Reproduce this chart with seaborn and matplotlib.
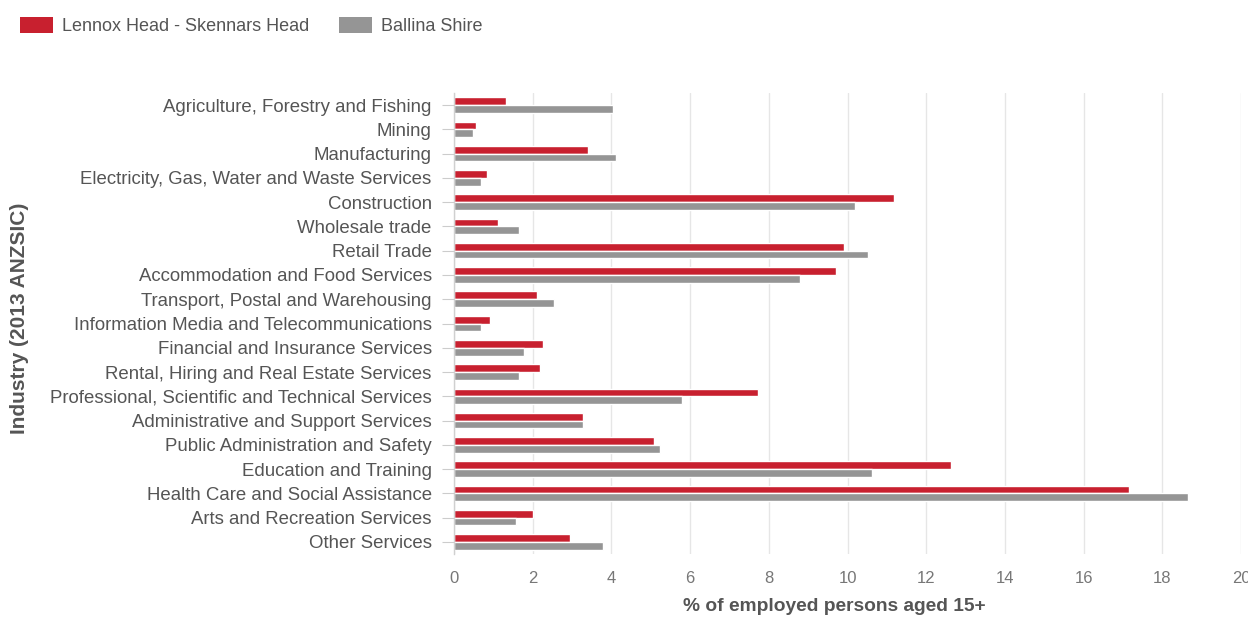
import matplotlib
matplotlib.use("Agg")
import matplotlib.pyplot as plt
from matplotlib.patches import Patch
import seaborn as sns
import pandas as pd

industries = [
    "Agriculture, Forestry and Fishing",
    "Mining",
    "Manufacturing",
    "Electricity, Gas, Water and Waste Services",
    "Construction",
    "Wholesale trade",
    "Retail Trade",
    "Accommodation and Food Services",
    "Transport, Postal and Warehousing",
    "Information Media and Telecommunications",
    "Financial and Insurance Services",
    "Rental, Hiring and Real Estate Services",
    "Professional, Scientific and Technical Services",
    "Administrative and Support Services",
    "Public Administration and Safety",
    "Education and Training",
    "Health Care and Social Assistance",
    "Arts and Recreation Services",
    "Other Services",
]
lennox = [1.33, 0.55, 3.41, 0.83, 11.17, 1.11, 9.90, 9.70, 2.11, 0.91,
          2.26, 2.18, 7.73, 3.28, 5.09, 12.62, 17.15, 2.00, 2.96]
ballina = [4.04, 0.49, 4.11, 0.69, 10.19, 1.64, 10.51, 8.80, 2.55, 0.69,
           1.77, 1.64, 5.80, 3.28, 5.23, 10.62, 18.66, 1.58, 3.79]
series_names = ["Lennox Head - Skennars Head", "Ballina Shire"]
x_ticks = [0, 2, 4, 6, 8, 10, 12, 14, 16, 18, 20]

RED = "#c8202f"
GREY = "#959595"
TEXT = "#555555"

df = pd.DataFrame({
    "Industry": industries * 2,
    "Share": lennox + ballina,
    "Area": [series_names[0]] * len(industries) + [series_names[1]] * len(industries),
})

sns.set_theme(style="white")
plt.rcParams["font.family"] = ["Liberation Sans", "DejaVu Sans"]

fig = plt.figure(figsize=(12.48, 6.23), dpi=100)
ax = fig.add_axes([454 / 1248, 1 - 554 / 623, (1241 - 454) / 1248, (554 - 93) / 623])

sns.barplot(
    data=df, y="Industry", x="Share", hue="Area", order=industries,
    hue_order=series_names, palette=[RED, GREY], orient="h",
    width=0.64, dodge=True, ax=ax, legend=False, saturation=1,
)

ax.set_xlim(0, 20)
ax.set_xticks(x_ticks)
ax.set_xticklabels([str(t) for t in x_ticks])
ax.xaxis.grid(True, color="#e6e6e6", linewidth=1)
ax.set_axisbelow(True)
for s in ["top", "right", "bottom"]:
    ax.spines[s].set_visible(False)
ax.spines["left"].set_color("#d0d0d0")
ax.spines["left"].set_linewidth(1)

ax.tick_params(axis="x", length=0, labelsize=12, labelcolor="#777777", pad=12)
ax.tick_params(axis="y", length=8.6, width=0.8, color="#cccccc", labelsize=13.4,
               labelcolor=TEXT, pad=7.5, left=True)

ax.set_xlabel("% of employed persons aged 15+", fontsize=13.8, fontweight="bold",
              color=TEXT)
ax.xaxis.set_label_coords((834 - 454) / 787, -(598 - 554) / 461)
ax.set_ylabel("Industry (2013 ANZSIC)", fontsize=15, fontweight="bold", color=TEXT)
ax.yaxis.set_label_coords((29 - 454) / 787, (554 - 318) / 461)

handles = [Patch(facecolor=RED, edgecolor="none"), Patch(facecolor=GREY, edgecolor="none")]
fig.legend(handles, series_names, loc="center left", bbox_to_anchor=(20 / 1248, 1 - 26 / 623),
           ncol=2, frameon=False, fontsize=13, handlelength=1.83, handleheight=1.05,
           handletextpad=0.5, columnspacing=1.65, labelcolor=TEXT, borderaxespad=0,
           borderpad=0)

fig.savefig("out.png", dpi=100, facecolor="white")
